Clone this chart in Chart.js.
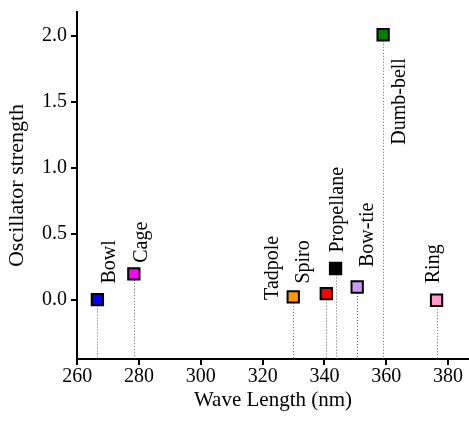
<!DOCTYPE html>
<html>
<head>
<meta charset="utf-8">
<script src="https://cdn.jsdelivr.net/npm/chart.js@4/dist/chart.umd.min.js"></script>
<style>
    body { margin: 0; background: #fff; }
</style>
</head>
<body>
<canvas id="chart1" width="469" height="427"></canvas>
<script>
//--------------------------------------DATOS
var nombres = ["Bowl", "Cage", "Tadpole", "Spiro", "Propellane", "Bow-tie", "Dumb-bell", "Ring"];
var longitudes = [266.5, 278.3, 329.9, 340.6, 343.6, 350.6, 359.0, 376.3];
var fuerzas = [0.005, 0.20, 0.025, 0.05, 0.24, 0.10, 2.01, 0.0];
var ticksX = [260, 280, 300, 320, 340, 360, 380];
var ticksY = [0.0, 0.5, 1.0, 1.5, 2.0];

//--------------------------------------ESTILO
var colores = ["#0000ff", "#ff00ff", "#ff9900", "#ff0000", "#000000", "#cc99ff", "#008000", "#ff99cc"];
// desplazamiento de cada etiqueta (px) respecto a su punto
var offsets = [[12, -16], [8, -11], [-20, 3], [-23, -10], [2, -16], [11, -20], [17, 110], [-3, -17]];
var fuente = "'Liberation Serif', 'Times New Roman', serif";

var puntos = [];
for (var i = 0; i < nombres.length; i++) {
    puntos.push({x: longitudes[i], y: fuerzas[i]});
}

var lineasPlugin = {
    id: 'lineas',
    beforeDatasetsDraw: function (chart) {
        var ctx = chart.ctx;
        var meta = chart.getDatasetMeta(0);
        var bottom = chart.chartArea.bottom;
        ctx.save();
        ctx.strokeStyle = '#666';
        ctx.lineWidth = 1;
        ctx.setLineDash([1, 2]);
        meta.data.forEach(function (p) {
            var x = Math.round(p.x) + 0.5;
            ctx.beginPath();
            ctx.moveTo(x, p.y);
            ctx.lineTo(x, bottom);
            ctx.stroke();
        });
        ctx.restore();
    },
    afterDatasetsDraw: function (chart) {
        var ctx = chart.ctx;
        var meta = chart.getDatasetMeta(0);
        ctx.save();
        ctx.fillStyle = '#000';
        ctx.font = "20px " + fuente;
        ctx.textAlign = 'left';
        ctx.textBaseline = 'middle';
        meta.data.forEach(function (p, i) {
            ctx.save();
            ctx.translate(p.x + offsets[i][0], p.y + offsets[i][1]);
            ctx.rotate(-Math.PI / 2);
            ctx.fillText(nombres[i], 0, 0);
            ctx.restore();
        });
        ctx.restore();
    }
};

var popCanvas = document.getElementById("chart1");
var scatter = new Chart(popCanvas, {
    type: 'scatter',
    data: {
        datasets: [{
            data: puntos,
            pointStyle: 'rect',
            pointRadius: 8,
            pointHoverRadius: 8,
            backgroundColor: colores,
            borderColor: '#000',
            borderWidth: 2
        }]
    },
    options: {
        responsive: false,
        animation: false,
        layout: {autoPadding: false, padding: {top: 12, right: 0, left: 0, bottom: 0}},
        plugins: {
            legend: {display: false},
            tooltip: {enabled: false}
        },
        scales: {
            x: {
                type: 'linear',
                min: 259.9,
                max: 386.8,
                afterBuildTicks: function (scale) {
                    scale.ticks = ticksX.map(function (v) { return {value: v}; });
                },
                afterFit: function (scale) {
                    scale.height = 68;
                    scale.paddingLeft = 0;
                    scale.paddingRight = 0;
                },
                border: {color: '#000', width: 2},
                grid: {display: true, drawOnChartArea: false, drawTicks: true, tickLength: 6, color: '#000', lineWidth: 2},
                ticks: {
                    color: '#000',
                    padding: 0,
                    maxRotation: 0,
                    font: {family: fuente, size: 20},
                    callback: function (v) { return v; }
                },
                title: {
                    display: true,
                    text: 'Wave Length (nm)',
                    color: '#000',
                    font: {family: fuente, size: 21},
                    padding: {top: 0, bottom: 14}
                }
            },
            y: {
                min: -0.445,
                max: 2.182,
                afterBuildTicks: function (scale) {
                    scale.ticks = ticksY.map(function (v) { return {value: v}; });
                },
                afterFit: function (scale) {
                    scale.width = 77;
                    scale.paddingTop = 0;
                    scale.paddingBottom = 0;
                },
                border: {color: '#000', width: 2},
                grid: {display: true, drawOnChartArea: false, drawTicks: true, tickLength: 6, color: '#000', lineWidth: 2},
                ticks: {
                    color: '#000',
                    padding: 4,
                    font: {family: fuente, size: 20},
                    callback: function (v) { return v.toFixed(1); }
                },
                title: {
                    display: true,
                    text: 'Oscillator strength',
                    color: '#000',
                    font: {family: fuente, size: 22},
                    padding: {top: 4, bottom: 0}
                }
            }
        }
    },
    plugins: [lineasPlugin]
});
</script>
</body>
</html>
